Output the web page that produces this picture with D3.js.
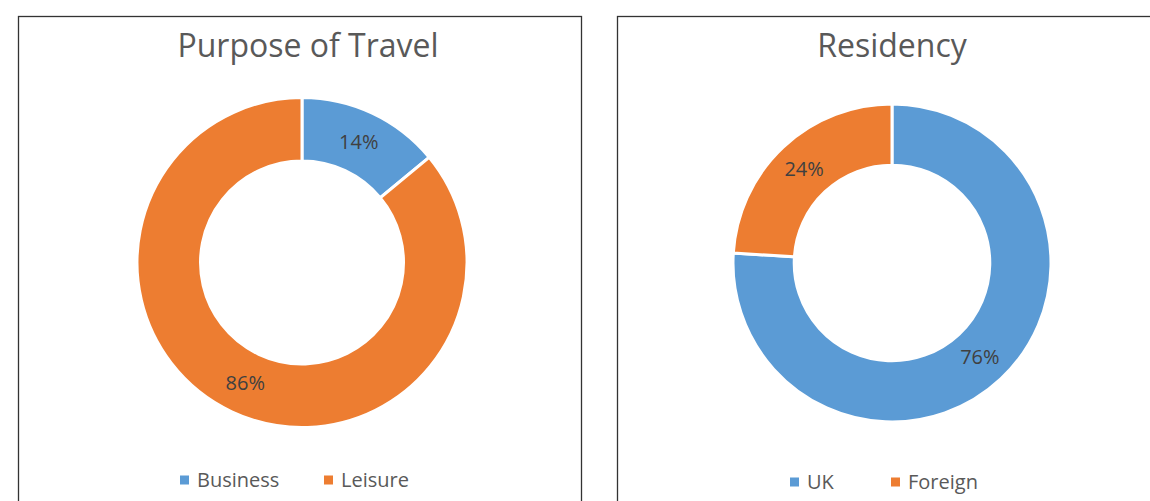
<!DOCTYPE html>
<html>
<head>
<meta charset="utf-8">
<script src="https://cdn.jsdelivr.net/npm/d3@7"></script>
<style>
  body { margin: 0; background: #fff; }
  svg text { font-family: "Open Sans", "Noto Sans", sans-serif; }
</style>
</head>
<body>
<div id="chart"></div>
<script>
// donut charts
let purposeLabels = ['Business', 'Leisure'];
let purposeValues = [14, 86];
let residencyLabels = ['UK', 'Foreign'];
let residencyValues = [76, 24];
let sliceColors = ['#5B9BD5', '#ED7D31'];

let width = 1150, height = 501;

let svg = d3.select('#chart').append('svg')
    .attr('width', width)
    .attr('height', height);

function drawPanel(opt) {
    let panel = svg.append('g');

    panel.append('rect')
        .attr('x', opt.x0 + 0.5)
        .attr('y', 16.5)
        .attr('width', opt.x1 - opt.x0)
        .attr('height', 520)
        .attr('fill', '#fff')
        .attr('stroke', '#333')
        .attr('stroke-width', 1.3);

    panel.append('text')
        .attr('x', opt.titleX)
        .attr('y', 57)
        .attr('text-anchor', 'middle')
        .attr('font-size', 32)
        .attr('fill', '#595959')
        .text(opt.title);

    let pie = d3.pie().sort(null).value(d => d);
    let arc = d3.arc().innerRadius(opt.r * 0.615).outerRadius(opt.r);

    let slices = panel.append('g')
        .attr('transform', 'translate(' + opt.cx + ',' + opt.cy + ')');

    let arcs = pie(opt.values);
    slices.selectAll('path')
        .data(arcs)
        .enter()
        .append('path')
        .attr('d', arc)
        .attr('fill', (d, i) => sliceColors[i])
        .attr('stroke', '#fff')
        .attr('stroke-width', 3);

    slices.selectAll('text')
        .data(arcs)
        .enter()
        .append('text')
        .attr('transform', d => 'translate(' + arc.centroid(d) + ')')
        .attr('text-anchor', 'middle')
        .attr('dy', '0.35em')
        .attr('font-size', 20)
        .attr('fill', '#404040')
        .text(d => d.data + '%');

    // legend
    let legend = panel.append('g');
    opt.labels.forEach(function(lab, i) {
        let lx = opt.legendX[i];
        legend.append('rect')
            .attr('x', lx)
            .attr('y', opt.legendY - 4.5)
            .attr('width', 9)
            .attr('height', 9)
            .attr('fill', sliceColors[i]);
        legend.append('text')
            .attr('x', lx + 17)
            .attr('y', opt.legendY)
            .attr('dy', '0.35em')
            .attr('font-size', 20)
            .attr('fill', '#595959')
            .text(lab);
    });
}

drawPanel({
    x0: 18, x1: 581,
    title: 'Purpose of Travel', titleX: 308,
    cx: 302, cy: 262.5, r: 165,
    values: purposeValues, labels: purposeLabels,
    legendX: [180, 324], legendY: 480
});

drawPanel({
    x0: 617, x1: 1160,
    title: 'Residency', titleX: 892,
    cx: 892, cy: 263, r: 159,
    values: residencyValues, labels: residencyLabels,
    legendX: [790, 891], legendY: 482
});
</script>
</body>
</html>
